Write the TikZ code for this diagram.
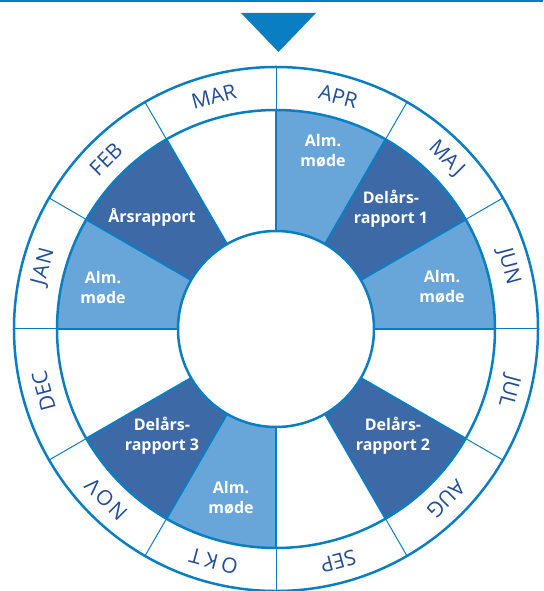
\documentclass[tikz,border=0pt]{standalone}
\usepackage{fontspec}
\setmainfont{Open Sans}
\usetikzlibrary{calc}
\definecolor{lineblue}{RGB}{10,126,194}
\definecolor{lightseg}{RGB}{104,165,217}
\definecolor{darkseg}{RGB}{62,105,167}
\definecolor{monthblue}{RGB}{32,76,152}

\newcommand{\wheelseg}[2]{%
  \fill[#2] (#1:98) -- (#1:219) arc[start angle=#1,delta angle=30,radius=219]
    -- ({#1+30}:98) arc[start angle={#1+30},delta angle=-30,radius=98] -- cycle;}

\begin{document}
\begin{tikzpicture}[x=1pt,y=1pt,
  month/.style={text=monthblue,inner sep=0pt,font=\fontsize{21}{21}\selectfont},
  seglabel/.style={text=white,inner sep=0pt,align=center,
    font=\bfseries\fontsize{16}{20}\selectfont}]
  \useasboundingbox (-276,-262) rectangle (267,329);
  \coordinate (c) at (0,0);
  \draw[lineblue,line width=2.2] (-276,328) -- (267,328);
  \fill[lineblue] (-35,316) -- (40,316) -- (2.5,277) -- cycle;
  \wheelseg{60}{lightseg}
  \wheelseg{30}{darkseg}
  \wheelseg{0}{lightseg}
  \wheelseg{-60}{darkseg}
  \wheelseg{-120}{lightseg}
  \wheelseg{-150}{darkseg}
  \wheelseg{150}{lightseg}
  \wheelseg{120}{darkseg}
  \foreach \a in {0,30,...,330} {
    \draw[lineblue,line width=1] (\a:219) -- (\a:262);
    \draw[lineblue,line width=2] (\a:98) -- (\a:219);
  }
  \draw[lineblue,line width=2.5] (c) circle[radius=262];
  \draw[lineblue,line width=2.5] (c) circle[radius=219];
  \draw[lineblue,line width=2.5,fill=white] (c) circle[radius=98];
  \foreach \m/\ls [count=\i] in {APR/0,MAJ/0,JUN/0,JUL/0,AUG/0,SEP/0,
      OKT/20,NOV/12,DEC/0,JAN/6,FEB/0,MAR/0} {
    \pgfmathsetmacro\ang{105-30*\i}
    \node[month,rotate=\ang-90] (m\i) at (\ang:240.5)
      {\addfontfeature{LetterSpace=\ls}\m};
  }
  \node[seglabel] (apr) at (47,178) {Alm.\\møde};
  \node[seglabel] (maj) at (115,120) {Delårs-\\rapport 1};
  \node[seglabel] (jun) at (166,42) {Alm.\\møde};
  \node[seglabel] (aug) at (117,-107) {Delårs-\\rapport 2};
  \node[seglabel] (okt) at (-45,-169) {Alm.\\møde};
  \node[seglabel] (nov) at (-114,-107) {Delårs-\\rapport 3};
  \node[seglabel] (jan) at (-173,41) {Alm.\\møde};
  \node[seglabel] (feb) at (-124,112) {Årsrapport};
\end{tikzpicture}
\end{document}
